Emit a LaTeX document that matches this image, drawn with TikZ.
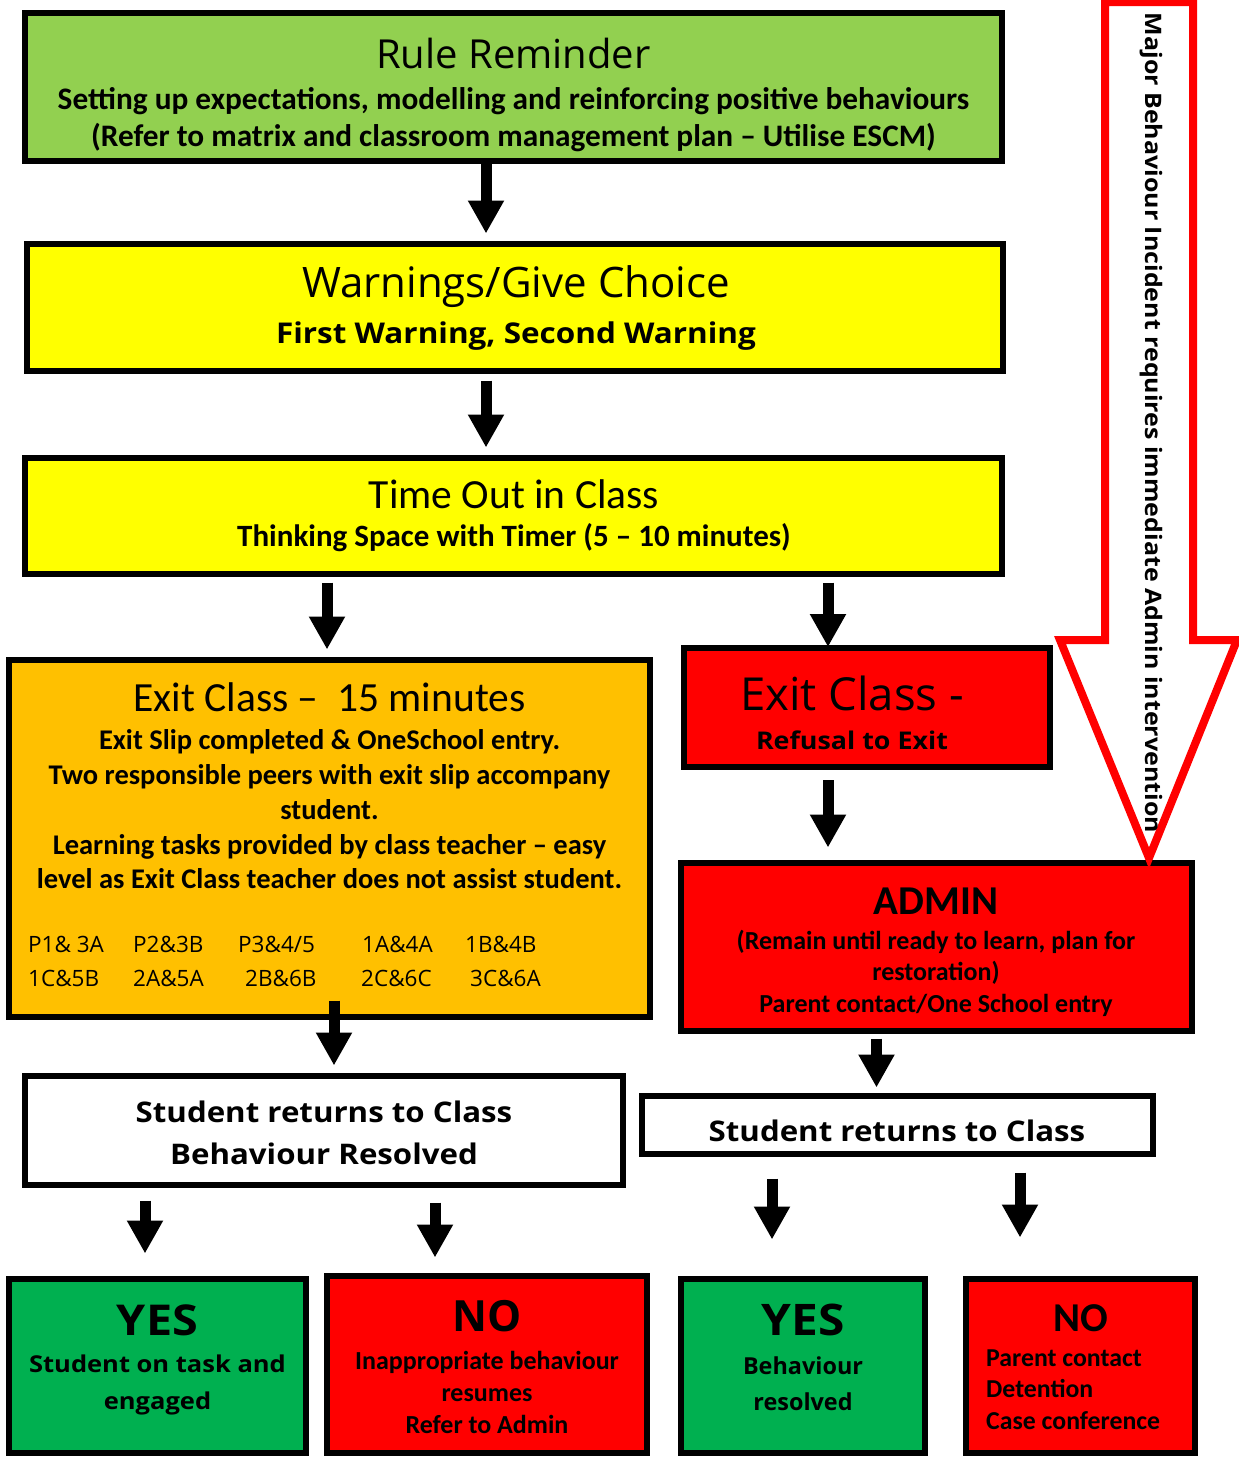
\documentclass[tikz,border=0pt]{standalone}
\usepackage{fontspec}
\setmainfont{Carlito}
\newfontfamily\comic{Open Sans}
\newfontfamily\comicw{Open Sans}[FakeStretch=1.1]
\usetikzlibrary{arrows.meta,calc}
\definecolor{lgreen}{HTML}{92D050}
\definecolor{yel}{HTML}{FFFF00}
\definecolor{orng}{HTML}{FFC000}
\definecolor{rred}{HTML}{FF0000}
\definecolor{dgreen}{HTML}{00B050}
\tikzset{
  box/.style={draw=black, line width=6pt, inner sep=0pt, fill=#1},
  blk/.style={draw=black, line width=11pt, -{Triangle[width=34pt,length=33pt]}},
  txt/.style={inner sep=0pt, align=center, text=black},
}
\newcommand\fs[2]{\fontsize{#1}{#2}\selectfont}
\begin{document}
\begin{tikzpicture}[x=1pt,y=-1pt]
\useasboundingbox (0,0) rectangle (1239,1459);
% boxes
\node[box=lgreen, minimum width=977pt, minimum height=148pt] (rule) at (513.5,87) {};
\node[box=yel, minimum width=976pt, minimum height=127pt] (warn) at (515,307.5) {};
\node[box=yel, minimum width=977pt, minimum height=116pt] (timeout) at (513.5,516) {};
\node[box=orng, minimum width=641pt, minimum height=357pt] (exitc) at (329.5,838.5) {};
\node[box=rred, minimum width=366pt, minimum height=119pt] (refuse) at (867,707.5) {};
\node[box=rred, minimum width=511pt, minimum height=168pt] (admin) at (936.5,947) {};
\node[box=white, minimum width=598pt, minimum height=109pt] (ret1) at (324,1130.5) {};
\node[box=white, minimum width=511pt, minimum height=58pt] (ret2) at (897.5,1125) {};
\node[box=dgreen, minimum width=297pt, minimum height=174pt] (yes1) at (157.5,1366) {};
\node[box=rred, minimum width=320pt, minimum height=177pt] (no1) at (487,1364.5) {};
\node[box=dgreen, minimum width=244pt, minimum height=174pt] (yes2) at (803,1366) {};
\node[box=rred, minimum width=229pt, minimum height=174pt] (no2) at (1080.5,1366) {};

% texts
\node[txt, font=\comic\fs{40}{48}] (t1) at (513.5,53) {Rule Reminder};
\node[txt, font=\bfseries\fs{31.3}{37}] (t1b) at (513.5,119.5) {Setting up expectations, modelling and reinforcing positive behaviours\\(Refer to matrix and classroom management plan -- Utilise ESCM)};
\node[txt, font=\comic\fs{42}{50}] (t2) at (516,287) {Warnings/Give Choice};
\node[txt, font=\comicw\bfseries\fs{28.6}{35}] (t2b) at (516,336) {First Warning, Second Warning};
\node[txt, font=\fs{41.5}{48}] (t3) at (514,494) {Time Out in Class};
\node[txt, font=\bfseries\fs{31}{36}] (t3b) at (514,538) {Thinking Space with Timer (5 -- 10 minutes)};
\node[txt, font=\fs{41.5}{48}] (t4) at (329.5,697) {Exit Class --~~15 minutes};
\node[txt, font=\bfseries\fs{28.5}{34.75}] (t4b) at (329.5,809.5) {Exit Slip completed \& OneSchool entry.\\Two responsible peers with exit slip accompany\\student.\\Learning tasks provided by class teacher -- easy\\level as Exit Class teacher does not assist student.};
\begin{scope}[every node/.style={txt, anchor=west, font=\comic\fs{22.5}{27}}]
\node (c1) at (28,944) {P1\& 3A};
\node (c2) at (133,944) {P2\&3B};
\node (c3) at (238,944) {P3\&4/5};
\node (c4) at (362,944) {1A\&4A};
\node (c5) at (465,944) {1B\&4B};
\node (c6) at (28,978) {1C\&5B};
\node (c7) at (133,978) {2A\&5A};
\node (c8) at (245,978) {2B\&6B};
\node (c9) at (361,978) {2C\&6C};
\node (c10) at (470,978) {3C\&6A};
\end{scope}
\node[txt, font=\comic\fs{45.5}{52}] (t5) at (852,693) {Exit Class -};
\node[txt, font=\comicw\bfseries\fs{24.4}{28}] (t5b) at (852,740) {Refusal to Exit};
\node[txt, font=\bfseries\fs{41}{46}] (t6) at (936,901) {ADMIN};
\node[txt, font=\bfseries\fs{26}{31.5}] (t6b) at (936,973) {(Remain until ready to learn, plan for\\restoration)\\Parent contact/One School entry};
\node[txt, font=\comicw\bfseries\fs{28.4}{42}] (t7) at (324,1133) {Student returns to Class\\Behaviour Resolved};
\node[txt, font=\comicw\bfseries\fs{28.4}{32}] (t8) at (897,1131) {Student returns to Class};
\node[txt, font=\comicw\bfseries\fs{42.5}{48}] (y1) at (157.5,1320) {YES};
\node[txt, font=\comicw\bfseries\fs{23.2}{37}] (y1b) at (157.5,1384.5) {Student on task and\\engaged};
\node[txt, font=\comic\bfseries\fs{43}{48}] (n1) at (487.5,1316) {NO};
\node[txt, font=\bfseries\fs{26}{32}] (n1b) at (487,1392) {Inappropriate behaviour\\resumes\\Refer to Admin};
\node[txt, font=\comicw\bfseries\fs{43.5}{48}] (y2) at (803,1320) {YES};
\node[txt, font=\comic\bfseries\fs{23.4}{36}] (y2b) at (803,1384) {Behaviour\\resolved};
\node[txt, font=\bfseries\fs{41}{46}] (n2) at (1081,1318) {NO};
\node[txt, anchor=west, align=left, font=\bfseries\fs{25.8}{31.5}] (n2b) at (986,1389.5) {Parent contact\\Detention\\Case conference};

% big red arrow
\draw[rred, line width=8pt, fill=white, line join=miter] (1105,2) -- (1193,2) -- (1193,640) -- (1237,640) -- (1149,858) -- (1060,640) -- (1105,640) -- cycle;
\node[txt, rotate=-90, font=\comicw\bfseries\fs{22.7}{26}] (major) at (1151,423) {Major Behaviour Incident requires immediate Admin intervention};

% connectors
\draw[blk, shorten >=7.5pt] ([xshift=-27.5pt]rule.south) -- ([xshift=-27.5pt]rule.south |- warn.north);
\draw[blk, shorten <=6.5pt, shorten >=7.5pt] ([xshift=-29pt]warn.south) -- ([xshift=-29pt]warn.south |- timeout.north);
\draw[blk, shorten <=5.5pt, shorten >=7.5pt] ([xshift=-2.5pt]exitc.north |- timeout.south) -- ([xshift=-2.5pt]exitc.north);
\draw[blk, shorten <=5.5pt, shorten >=-2pt] ([xshift=-39pt]refuse.north |- timeout.south) -- ([xshift=-39pt]refuse.north);
\draw[blk, shorten <=10pt, shorten >=12.5pt] ([xshift=-39pt]refuse.south) -- ([xshift=-39pt]refuse.south |- admin.north);
\draw[blk, shorten <=-19.5pt, shorten >=7.5pt] ([xshift=4.5pt]exitc.south) -- ([xshift=4.5pt]exitc.south |- ret1.north);
\draw[blk, shorten <=4.5pt, shorten >=5.5pt] ([xshift=-21pt]ret2.north |- admin.south) -- ([xshift=-21pt]ret2.north);
\draw[blk, shorten <=12.5pt, shorten >=22.5pt] ([xshift=-12.5pt]yes1.north |- ret1.south) -- ([xshift=-12.5pt]yes1.north);
\draw[blk, shorten <=14.5pt, shorten >=15.5pt] ([xshift=-52pt]no1.north |- ret1.south) -- ([xshift=-52pt]no1.north);
\draw[blk, shorten <=21.5pt, shorten >=36.5pt] ([xshift=-31pt]yes2.north |- ret2.south) -- ([xshift=-31pt]yes2.north);
\draw[blk, shorten <=15.5pt, shorten >=38.5pt] ([xshift=-60.5pt]no2.north |- ret2.south) -- ([xshift=-60.5pt]no2.north);
\end{tikzpicture}
\end{document}
